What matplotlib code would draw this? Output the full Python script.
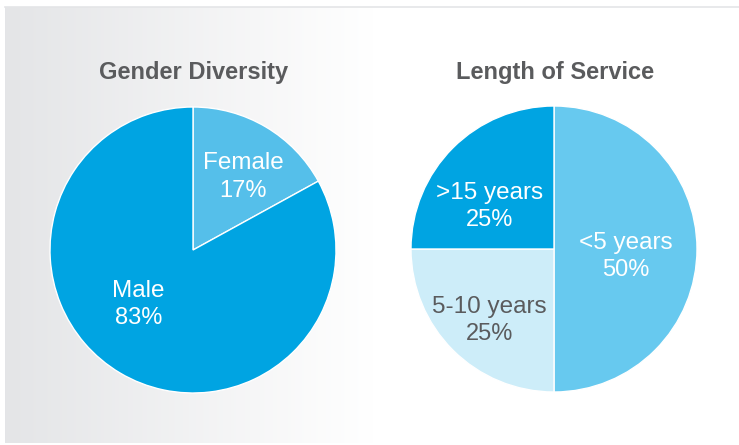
import numpy as np
import matplotlib
matplotlib.use("Agg")
import matplotlib.pyplot as plt

plt.rcParams['font.family'] = ['Liberation Sans', 'DejaVu Sans']

# data
gender_labels = ['Female', 'Male']
gender_values = [17, 83]
gender_colors = ['#55bfea', '#00a4e2']
gender_text = ['white', 'white']

service_labels = ['<5 years', '5-10 years', '>15 years']
service_values = [50, 25, 25]
service_colors = ['#67c9ef', '#cdedf9', '#00a4e2']
service_text = ['white', '#5a5b5d', 'white']

W, H = 739, 445
fig = plt.figure(figsize=(W / 100, H / 100), dpi=100)

# background panel with grey->white gradient
bg = fig.add_axes([5 / W, 2 / H, (W - 5) / W, (H - 9) / H])
grad = np.linspace(0, 1, 400)
grad = np.clip(grad / 0.5, 0, 1)
rgb_left = np.array([0.894, 0.898, 0.906])
img = rgb_left[None, None, :] + (1 - rgb_left)[None, None, :] * grad[None, :, None]
bg.imshow(img, aspect='auto', extent=[0, 1, 0, 1])
bg.set_xlim(0, 1)
bg.set_ylim(0, 1)
bg.axis('off')
fig.add_artist(plt.Line2D([5 / W, 1], [1 - 7 / H, 1 - 7 / H], color='#e4e5e7', lw=1.2))


def pie_axes(cx, cy, r):
    return fig.add_axes([(cx - r) / W, (H - cy - r) / H, 2 * r / W, 2 * r / H])


def draw_pie(ax, values, colors, labels, tcolors, pos):
    wedges, _ = ax.pie(values, colors=colors, startangle=90, counterclock=False,
                       radius=1, wedgeprops=dict(edgecolor='white', linewidth=1))
    for lab, v, c, (x, y) in zip(labels, values, tcolors, pos):
        ax.text(x, y, lab, ha='center', va='center', color=c, fontsize=17.5)
        ax.text(x, y - 0.19, f'{v}%', ha='center', va='center', color=c, fontsize=17)
    ax.set_xlim(-1, 1)
    ax.set_ylim(-1, 1)
    ax.axis('off')


ax1 = pie_axes(193, 250, 143)
draw_pie(ax1, gender_values, gender_colors, gender_labels, gender_text,
         [(0.35, 0.605), (-0.38, -0.285)])

ax2 = pie_axes(554, 249, 143)
draw_pie(ax2, service_values, service_colors, service_labels, service_text,
         [(0.50, 0.045), (-0.45, -0.405), (-0.45, 0.395)])

fig.text(194 / W, 1 - 72 / H, 'Gender Diversity', ha='center', va='center',
         fontsize=17, fontweight='bold', color='#5a5b5d')
fig.text(555 / W, 1 - 72 / H, 'Length of Service', ha='center', va='center',
         fontsize=17, fontweight='bold', color='#5a5b5d')

fig.savefig('out.png', dpi=100)
